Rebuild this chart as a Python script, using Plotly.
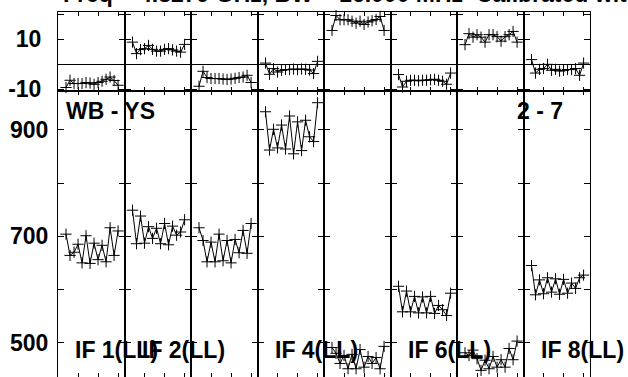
import plotly.graph_objects as go
from plotly.subplots import make_subplots

# ---------------- data ----------------
channels = list(range(2, 16))
if_labels = ["IF 1(LL)", "IF 2(LL)", "IF 3(LL)", "IF 4(LL)",
             "IF 5(LL)", "IF 6(LL)", "IF 7(LL)", "IF 8(LL)"]
shown_if = [True, True, False, True, False, True, False, True]

phase_if1 = [-9.3, -6.4, -7.7, -7.7, -7.7, -7.3, -7.5, -8.0, -7.3, -6.8, -6.0, -5.1, -6.5, -8.4]
phase_if2 = [8.9, 4.3, 5.9, 6.3, 7.6, 6.0, 5.3, 5.3, 6.0, 6.3, 5.8, 5.3, 4.9, 8.0]
phase_if3 = [-8.8, -2.8, -5.3, -5.7, -5.7, -5.7, -5.9, -6.1, -5.9, -5.6, -5.3, -5.1, -4.4, -7.3]
phase_if4 = [0.5, -4.0, -1.7, -3.1, -2.4, -2.1, -2.1, -1.9, -2.1, -1.9, -2.0, -2.3, -3.7, 1.2]
phase_if5 = [13.6, 19.6, 17.9, 17.9, 17.9, 17.3, 16.5, 17.3, 16.0, 17.0, 17.5, 18.0, 19.2, 13.6]
phase_if6 = [-4.1, -9.1, -6.8, -6.4, -6.4, -6.6, -6.4, -6.4, -6.2, -6.0, -6.4, -6.8, -8.0, -3.5]
phase_if7 = [7.9, 12.3, 10.9, 11.9, 10.9, 8.9, 11.9, 11.9, 11.1, 9.3, 11.1, 11.9, 13.2, 8.9]
phase_if8 = [1.9, -3.5, -2.0, -1.7, 0.0, -2.4, -2.0, -2.7, -2.4, -2.1, -2.1, -1.7, -4.4, 0.5]

amp_if1 = [704, 664, 670, 685, 650, 701, 649, 687, 656, 683, 652, 716, 664, 710]
amp_if2 = [749, 686, 738, 687, 718, 696, 715, 686, 724, 684, 719, 702, 708, 731]
amp_if3 = [716, 692, 652, 689, 652, 704, 654, 692, 650, 694, 669, 711, 668, 724]
amp_if4 = [934, 862, 901, 866, 909, 864, 926, 855, 915, 861, 918, 887, 878, 951]
amp_if5 = [491, 480, 461, 476, 451, 478, 451, 487, 454, 474, 461, 472, 451, 493]
amp_if6 = [606, 558, 597, 558, 587, 556, 586, 556, 587, 555, 570, 562, 551, 593]
amp_if7 = [481, 476, 486, 470, 448, 467, 451, 474, 454, 468, 454, 489, 468, 503]
amp_if8 = [645, 590, 618, 592, 622, 595, 620, 591, 619, 593, 612, 602, 622, 627]

phases = [phase_if1, phase_if2, phase_if3, phase_if4, phase_if5, phase_if6, phase_if7, phase_if8]
amps = [amp_if1, amp_if2, amp_if3, amp_if4, amp_if5, amp_if6, amp_if7, amp_if8]

phase_ticks = [-10, 0, 10, 20]
phase_ticktext = ["-10", "", "10", ""]
amp_ticks = [500, 600, 700, 800, 900]
amp_ticktext = ["500", "", "700", "", "900"]
chan_ticks = [5, 10, 15]

title_text = "Freq = 4.8279 GHz, BW = 16.000 MHz  Calibrated with CL #  3"
baseline_label = "WB - YS"
stokes_label = "2 - 7"

# ---------------- figure ----------------
W, H = 628, 377
ML, MR, MT, MB = 58, 38, 12, 0
FONT = "Liberation Sans, Arial, sans-serif"

fig = make_subplots(rows=2, cols=8, row_heights=[79, 286],
                    vertical_spacing=0, horizontal_spacing=0)

mk = dict(symbol="cross-thin-open", size=8, line=dict(color="black", width=1))
for c in range(8):
    fig.add_trace(go.Scatter(x=channels, y=phases[c], mode="lines+markers",
                             line=dict(color="black", width=1), marker=mk,
                             showlegend=False, cliponaxis=False), row=1, col=c + 1)
    fig.add_trace(go.Scatter(x=channels, y=amps[c], mode="lines+markers",
                             line=dict(color="black", width=1), marker=mk,
                             showlegend=False, cliponaxis=False), row=2, col=c + 1)

xr = [0, 16.6]
for c in range(1, 9):
    common_x = dict(range=xr, tickvals=chan_ticks, ticks="inside", ticklen=4,
                    tickcolor="black", showticklabels=False, showline=True,
                    linecolor="black", linewidth=1, mirror="ticks",
                    showgrid=False, zeroline=False, automargin=False)
    fig.update_xaxes(row=1, col=c, **common_x)
    fig.update_xaxes(row=2, col=c, **common_x)
    fig.update_yaxes(row=1, col=c, range=[-10.7, 21], tickvals=phase_ticks,
                     ticktext=phase_ticktext, ticks="inside", ticklen=6,
                     tickcolor="black", showticklabels=(c == 1),
                     ticklabelstandoff=11, automargin=False,
                     tickfont=dict(family=FONT, size=23, color="black", weight="bold"),
                     showline=True, linecolor="black", linewidth=1, mirror="ticks",
                     showgrid=False, zeroline=True, zerolinecolor="black",
                     zerolinewidth=1)
    fig.update_yaxes(row=2, col=c, range=[435.5, 973], tickvals=amp_ticks,
                     ticktext=amp_ticktext, ticks="inside", ticklen=6,
                     tickcolor="black", showticklabels=(c == 1),
                     ticklabelstandoff=4, automargin=False,
                     tickfont=dict(family=FONT, size=23, color="black", weight="bold"),
                     showline=True, linecolor="black", linewidth=1, mirror="ticks",
                     showgrid=False, zeroline=False)

PW, PH = W - ML - MR, H - MT - MB


def px(x):
    return (x - ML) / PW


def py(y):
    return (H - MB - y) / PH


bold = dict(family=FONT, size=23, color="black", weight="bold")
ann = [
    dict(text=title_text, x=px(61), y=py(-6), xanchor="left", yanchor="middle"),
    dict(text=baseline_label, x=px(64), y=py(111), xanchor="left", yanchor="middle"),
    dict(text=stokes_label, x=px(515), y=py(111), xanchor="left", yanchor="middle"),
]
col_w = PW / 8
for i, lab in enumerate(if_labels):
    if shown_if[i]:
        ann.append(dict(text=lab, x=px(ML + i * col_w + 15), y=py(350),
                        xanchor="left", yanchor="middle"))
for a in ann:
    a.update(xref="paper", yref="paper", showarrow=False, font=bold)

fig.update_layout(width=W, height=H, margin=dict(l=ML, r=MR, t=MT, b=MB, autoexpand=False),
                  plot_bgcolor="white", paper_bgcolor="white",
                  annotations=ann, showlegend=False)

fig.write_html("out.html", config={"displayModeBar": False, "staticPlot": True},
               post_script="document.body.style.margin='0';document.body.style.overflow='hidden';")
